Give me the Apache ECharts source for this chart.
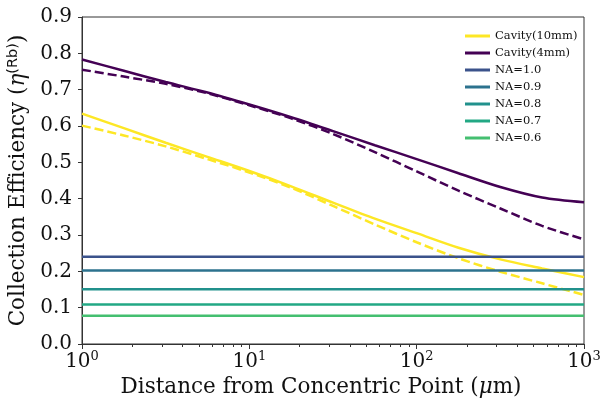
<!DOCTYPE html>
<html>
<head>
<meta charset="utf-8">
<script src="https://cdn.jsdelivr.net/npm/echarts@6/dist/echarts.min.js"></script>
<style>
    html, body { margin: 0; padding: 0; background: #fff; }
    #chart1 { width: 604px; height: 400px; }
</style>
</head>
<body>
<div id="chart1"></div>
<script>
// 数据 (读自原图, 对数间隔取点)
var distance = [1, 1.778, 3.162, 5.623, 10, 17.78, 31.62, 56.23, 100, 177.8, 316.2, 562.3, 1000];
var cav10Solid = [0.634, 0.594, 0.554, 0.515, 0.476, 0.434, 0.389, 0.345, 0.305, 0.265, 0.233, 0.208, 0.184];
var cav10Dash = [0.601, 0.574, 0.544, 0.509, 0.472, 0.430, 0.380, 0.329, 0.280, 0.236, 0.199, 0.167, 0.135];
var cav4Solid = [0.783, 0.752, 0.721, 0.692, 0.659, 0.624, 0.586, 0.547, 0.509, 0.470, 0.432, 0.403, 0.390];
var cav4Dash = [0.755, 0.736, 0.716, 0.690, 0.657, 0.621, 0.578, 0.528, 0.475, 0.422, 0.373, 0.325, 0.288];
var naLabels = ['NA=1.0', 'NA=0.9', 'NA=0.8', 'NA=0.7', 'NA=0.6'];
var naValues = [0.240, 0.202, 0.151, 0.109, 0.078];
var naColors = ['#3b528b', '#2c728e', '#21918c', '#22a884', '#44bf70'];
var xMinorTicks = [2, 3, 4, 5, 6, 7, 8, 9, 20, 30, 40, 50, 60, 70, 80, 90, 200, 300, 400, 500, 600, 700, 800, 900];

var serif = 'DejaVu Serif';
var chart1 = echarts.init(document.getElementById('chart1'));

function pairs(xs, ys) {
    var out = [];
    for (var i = 0; i < xs.length; i++) {
        out.push([xs[i], ys[i]]);
    }
    return out;
}

function curve(name, color, ys, dashed) {
    return {
        name: name,
        type: 'line',
        xAxisIndex: 0,
        data: pairs(distance, ys),
        symbol: 'none',
        smooth: 0.3,
        color: color,
        lineStyle: { color: color, width: 2.5, type: dashed ? [9, 4] : 'solid' },
        silent: true
    };
}

var series = [
    curve('Cavity(10mm)', '#fde725', cav10Solid, false),
    curve('Cavity(10mm)', '#fde725', cav10Dash, true),
    curve('Cavity(4mm)', '#440154', cav4Solid, false),
    curve('Cavity(4mm)', '#440154', cav4Dash, true)
];
for (var i = 0; i < naValues.length; i++) {
    series.push({
        name: naLabels[i],
        type: 'line',
        xAxisIndex: 0,
        data: [[distance[0], naValues[i]], [distance[distance.length - 1], naValues[i]]],
        symbol: 'none',
        color: naColors[i],
        lineStyle: { color: naColors[i], width: 2.5 },
        silent: true
    });
}

var option = {
    animation: false,
    grid: {
        left: 82, right: 20, top: 17, bottom: 56,
        outerBoundsMode: 'none',
        containLabel: false,
        show: true, borderColor: '#333', borderWidth: 1
    },
    legend: {
        data: ['Cavity(10mm)', 'Cavity(4mm)'].concat(naLabels),
        orient: 'vertical',
        left: 460,
        top: 24,
        icon: 'rect',
        itemWidth: 25,
        itemHeight: 3,
        itemGap: 3,
        textStyle: { fontFamily: serif, fontSize: 11.5, color: '#111', lineHeight: 14 }
    },
    xAxis: [{
        type: 'log',
        logBase: 10,
        min: 1,
        max: 1000,
        name: '{a|Distance from Concentric Point (}{i|μ}{a|m)}',
        nameLocation: 'middle',
        nameGap: 32,
        nameTextStyle: {
            padding: [0, 24, 0, 0],
            rich: {
                a: { fontFamily: serif, fontSize: 21.5, color: '#111' },
                i: { fontFamily: serif, fontStyle: 'italic', fontSize: 21.5, color: '#111' }
            }
        },
        axisLine: { show: true, lineStyle: { color: '#333', width: 1 } },
        axisTick: { show: true, inside: false, length: 5, lineStyle: { color: '#333' } },
        splitLine: { show: false },
        axisLabel: {
            margin: 6,
            showMinLabel: true,
            showMaxLabel: true,
            formatter: function (v) {
                var e = Math.round(Math.log(v) / Math.LN10);
                return '{b|10}{s|' + e + '}';
            },
            rich: {
                b: { fontFamily: serif, fontSize: 20, color: '#111', lineHeight: 24 },
                s: { fontFamily: serif, fontSize: 13, color: '#111', verticalAlign: 'top' }
            }
        }
    }, {
        // 对数次刻度
        type: 'log',
        logBase: 10,
        min: 1,
        max: 1000,
        position: 'bottom',
        axisLine: { show: false },
        axisLabel: { show: false },
        splitLine: { show: false },
        axisTick: { show: true, length: 3, customValues: xMinorTicks, lineStyle: { color: '#333' } }
    }],
    yAxis: {
        type: 'value',
        min: 0,
        max: 0.9,
        interval: 0.1,
        name: '{a|Collection Efficiency (}{i|η}{s|(Rb)}{a|)}',
        nameLocation: 'middle',
        nameRotate: 90,
        nameGap: 48,
        nameTextStyle: {
            rich: {
                a: { fontFamily: serif, fontSize: 21.5, color: '#111', lineHeight: 26 },
                i: { fontFamily: serif, fontStyle: 'italic', fontSize: 21.5, color: '#111' },
                s: { fontFamily: 'DejaVu Sans', fontSize: 14.5, color: '#111', verticalAlign: 'top' }
            }
        },
        axisLine: { show: true, lineStyle: { color: '#333', width: 1 } },
        axisTick: { show: true, inside: false, length: 4, lineStyle: { color: '#333' } },
        splitLine: { show: false },
        axisLabel: {
            margin: 10,
            fontFamily: serif,
            fontSize: 20,
            color: '#111',
            formatter: function (v) {
                return v.toFixed(1);
            }
        }
    },
    series: series
};
chart1.setOption(option, true);
</script>
</body>
</html>
